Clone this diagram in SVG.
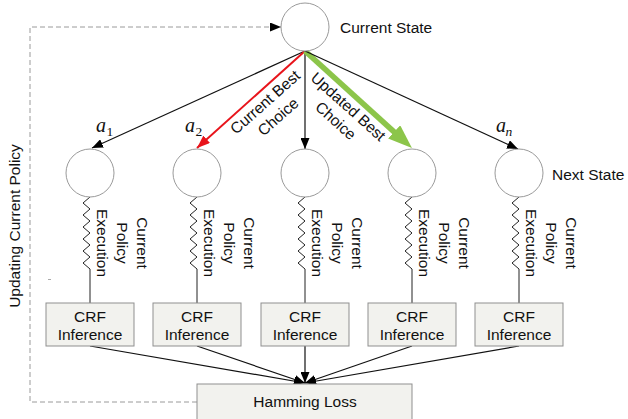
<svg xmlns="http://www.w3.org/2000/svg" width="628" height="419" viewBox="0 0 628 419">
<style>
  text { font-family: "Liberation Sans", Arial, sans-serif; font-size: 15.5px; fill: #111; }
  .state { fill: #fff; stroke: #9a9a9a; stroke-width: 1; }
  .box { fill: #f2f2ee; stroke: #8f8f8f; stroke-width: 1; }
  .edge { fill: none; stroke: #111; stroke-width: 1.2; }
  .zig { fill: none; stroke: #222; stroke-width: 1; }
  .math { font-family: "Liberation Serif", "Times New Roman", serif; font-style: italic; font-size: 20px; }
  .sub { font-family: "Liberation Serif", "Times New Roman", serif; font-size: 13.5px; }
  .subi { font-family: "Liberation Serif", "Times New Roman", serif; font-style: italic; font-size: 13.5px; }
  .mid { text-anchor: middle; }
</style>
<defs>
  <marker id="ah" markerUnits="userSpaceOnUse" markerWidth="11" markerHeight="9" refX="11" refY="4.5" orient="auto">
    <path d="M0,0 L11,4.5 L0,9 z" fill="#000"/>
  </marker>
  <marker id="ahRed" markerUnits="userSpaceOnUse" markerWidth="13" markerHeight="10" refX="13" refY="5" orient="auto">
    <path d="M0,0 L13,5 L0,10 z" fill="#e8141b"/>
  </marker>
  <marker id="ahGreen" markerUnits="userSpaceOnUse" markerWidth="24" markerHeight="18" refX="1" refY="9" orient="auto">
    <path d="M0,0 L24,9 L0,18 z" fill="#8cc54a"/>
  </marker>
</defs>

<g id="connectors">
  <line class="edge" x1="305" y1="51" x2="92" y2="148" marker-end="url(#ah)"/>
  <line x1="305" y1="51" x2="197" y2="148" stroke="#e8141b" stroke-width="2" marker-end="url(#ahRed)"/>
  <line class="edge" x1="305" y1="51" x2="305" y2="149" marker-end="url(#ah)"/>
  <line x1="305" y1="51" x2="394.9" y2="132.6" stroke="#8cc54a" stroke-width="5.5" marker-end="url(#ahGreen)"/>
  <line class="edge" x1="305" y1="51" x2="518" y2="149" marker-end="url(#ah)"/>

  <path class="zig" d="M90,197 l-7,6 l7,6 l-7,6 l7,6 l-7,6 l7,6 l-7,6 l7,6 l-7,6 l7,6 l-7,6 l7,6 L90,303"/>
  <path class="zig" d="M197,197 l-7,6 l7,6 l-7,6 l7,6 l-7,6 l7,6 l-7,6 l7,6 l-7,6 l7,6 l-7,6 l7,6 L197,303"/>
  <path class="zig" d="M305,197 l-7,6 l7,6 l-7,6 l7,6 l-7,6 l7,6 l-7,6 l7,6 l-7,6 l7,6 l-7,6 l7,6 L305,303"/>
  <path class="zig" d="M412,197 l-7,6 l7,6 l-7,6 l7,6 l-7,6 l7,6 l-7,6 l7,6 l-7,6 l7,6 l-7,6 l7,6 L412,303"/>
  <path class="zig" d="M519,197 l-7,6 l7,6 l-7,6 l7,6 l-7,6 l7,6 l-7,6 l7,6 l-7,6 l7,6 l-7,6 l7,6 L519,303"/>

  <line class="edge" x1="90" y1="346" x2="305" y2="383" marker-end="url(#ah)"/>
  <line class="edge" x1="197" y1="346" x2="305" y2="383" marker-end="url(#ah)"/>
  <line class="edge" x1="305" y1="346" x2="305" y2="383" marker-end="url(#ah)"/>
  <line class="edge" x1="412" y1="346" x2="305" y2="383" marker-end="url(#ah)"/>
  <line class="edge" x1="519" y1="346" x2="305" y2="383" marker-end="url(#ah)"/>

  <path d="M197,402 H30 V27 H281" fill="none" stroke="#9a9a9a" stroke-width="1" stroke-dasharray="5,3" marker-end="url(#ah)"/>
  <line x1="48" y1="279.5" x2="51" y2="279.5" stroke="#aaa" stroke-width="1"/>

  <g id="edge-labels">
    <text class="mid" transform="translate(265,102) rotate(-41.6)"><tspan x="0" y="5.5">Current Best</tspan><tspan x="0" y="25">Choice</tspan></text>
    <text class="mid" transform="translate(348.5,106.5) rotate(41.9)"><tspan x="0" y="5.5">Updated Best</tspan><tspan x="0" y="24.5">Choice</tspan></text>
    <text class="math" x="96" y="132">a</text><text class="sub" x="106.5" y="136">1</text>
    <text class="math" x="185" y="132">a</text><text class="sub" x="195.5" y="136">2</text>
    <text class="math" x="496" y="132">a</text><text class="subi" x="505.5" y="136">n</text>
    <text transform="translate(20,226) rotate(-90)" class="mid">Updating Current Policy</text>
  </g>
</g>

<g id="current-state">
  <circle class="state" cx="305" cy="27" r="24"/>
  <text x="340" y="33">Current State</text>
</g>

<g id="next-state-1">
  <circle class="state" cx="90" cy="173" r="24"/>
  <text class="mid" transform="translate(137,243) rotate(90)"><tspan x="0" y="0">Current</tspan><tspan x="0" y="20">Policy</tspan><tspan x="0" y="40">Execution</tspan></text>
</g>
<g id="next-state-2">
  <circle class="state" cx="197" cy="173" r="24"/>
  <text class="mid" transform="translate(244,243) rotate(90)"><tspan x="0" y="0">Current</tspan><tspan x="0" y="20">Policy</tspan><tspan x="0" y="40">Execution</tspan></text>
</g>
<g id="next-state-3">
  <circle class="state" cx="305" cy="173" r="24"/>
  <text class="mid" transform="translate(352,243) rotate(90)"><tspan x="0" y="0">Current</tspan><tspan x="0" y="20">Policy</tspan><tspan x="0" y="40">Execution</tspan></text>
</g>
<g id="next-state-4">
  <circle class="state" cx="412" cy="173" r="24"/>
  <text class="mid" transform="translate(459,243) rotate(90)"><tspan x="0" y="0">Current</tspan><tspan x="0" y="20">Policy</tspan><tspan x="0" y="40">Execution</tspan></text>
</g>
<g id="next-state-5">
  <circle class="state" cx="519" cy="173" r="24"/>
  <text class="mid" transform="translate(566,243) rotate(90)"><tspan x="0" y="0">Current</tspan><tspan x="0" y="20">Policy</tspan><tspan x="0" y="40">Execution</tspan></text>
  <text x="552" y="180">Next State</text>
</g>

<g id="crf-1">
  <rect class="box" x="46" y="303" width="88" height="43"/>
  <text class="mid" x="90" y="322">CRF</text><text class="mid" x="90" y="340">Inference</text>
</g>
<g id="crf-2">
  <rect class="box" x="153" y="303" width="88" height="43"/>
  <text class="mid" x="197" y="322">CRF</text><text class="mid" x="197" y="340">Inference</text>
</g>
<g id="crf-3">
  <rect class="box" x="261" y="303" width="88" height="43"/>
  <text class="mid" x="305" y="322">CRF</text><text class="mid" x="305" y="340">Inference</text>
</g>
<g id="crf-4">
  <rect class="box" x="368" y="303" width="88" height="43"/>
  <text class="mid" x="412" y="322">CRF</text><text class="mid" x="412" y="340">Inference</text>
</g>
<g id="crf-5">
  <rect class="box" x="475" y="303" width="88" height="43"/>
  <text class="mid" x="519" y="322">CRF</text><text class="mid" x="519" y="340">Inference</text>
</g>

<g id="hamming-loss">
  <rect class="box" x="197" y="384" width="215" height="40"/>
  <text class="mid" x="305" y="407">Hamming Loss</text>
</g>
</svg>
